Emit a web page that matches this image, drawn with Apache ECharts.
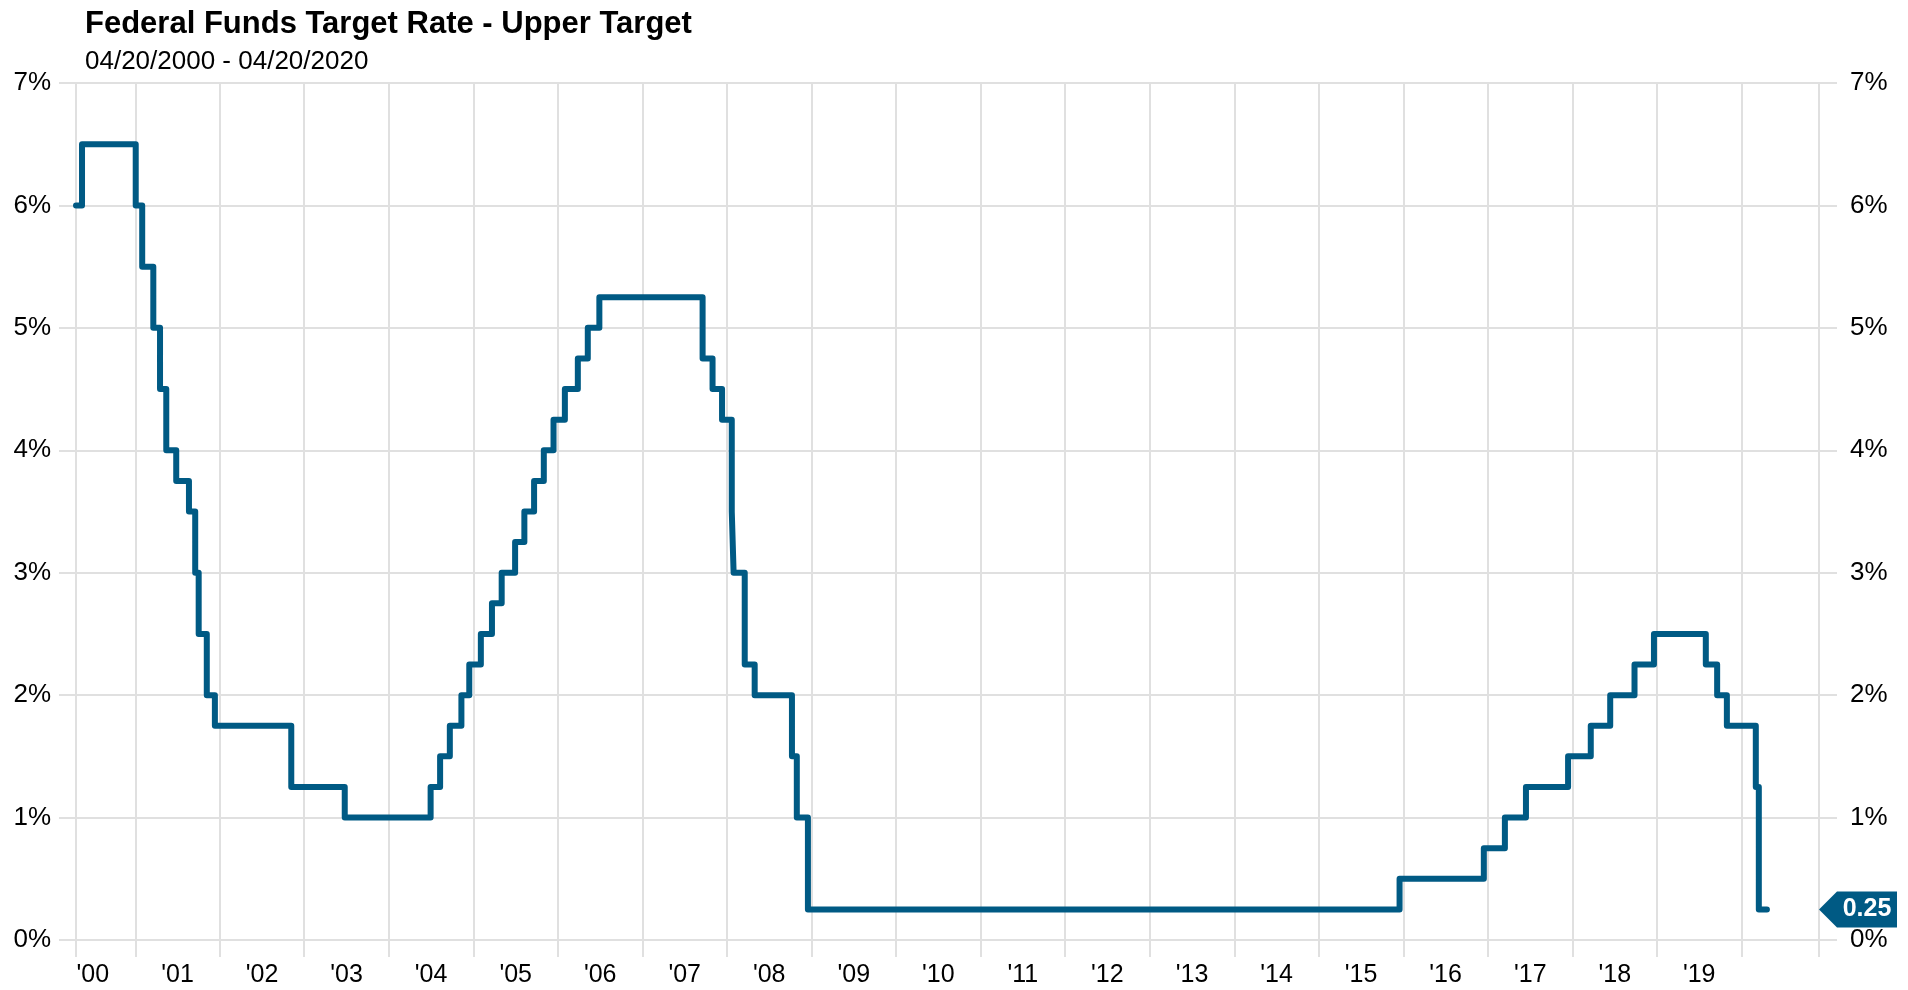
<!DOCTYPE html>
<html><head><meta charset="utf-8">
<script src="https://cdn.jsdelivr.net/npm/echarts@6/dist/echarts.min.js"></script>
<style>html,body{margin:0;padding:0;background:#fff}#c{width:1908px;height:990px}</style>
</head><body><div id="c"></div>
<script>
const titleText = 'Federal Funds Target Rate - Upper Target';
const subtitleText = '04/20/2000 - 04/20/2020';

// Dates on which the upper target changed (plus start and end of the window)
const changeDates = [
  '2000-04-20','2000-05-16',
  '2001-01-03','2001-01-31','2001-03-20','2001-04-18','2001-05-15','2001-06-27',
  '2001-08-21','2001-09-17','2001-10-02','2001-11-06','2001-12-11',
  '2002-11-06','2003-06-25',
  '2004-06-30','2004-08-10','2004-09-21','2004-11-10','2004-12-14',
  '2005-02-02','2005-03-22','2005-05-03','2005-06-30','2005-08-09','2005-09-20','2005-11-01','2005-12-13',
  '2006-01-31','2006-03-28','2006-05-10','2006-06-29',
  '2007-09-18','2007-10-31','2007-12-11',
  '2008-01-22','2008-01-30','2008-03-18','2008-04-30','2008-10-08','2008-10-29','2008-12-16',
  '2015-12-16','2016-12-14',
  '2017-03-15','2017-06-14','2017-12-13',
  '2018-03-21','2018-06-13','2018-09-26','2018-12-19',
  '2019-07-31','2019-09-18','2019-10-30',
  '2020-03-03','2020-03-16','2020-04-20'
];
const upperRates = [
  6.00, 6.50,
  6.00, 5.50, 5.00, 4.50, 4.00, 3.75,
  3.50, 3.00, 2.50, 2.00, 1.75,
  1.25, 1.00,
  1.25, 1.50, 1.75, 2.00, 2.25,
  2.50, 2.75, 3.00, 3.25, 3.50, 3.75, 4.00, 4.25,
  4.50, 4.75, 5.00, 5.25,
  4.75, 4.50, 4.25,
  3.50, 3.00, 2.25, 2.00, 1.50, 1.00, 0.25,
  0.50, 0.75,
  1.00, 1.25, 1.50,
  1.75, 2.00, 2.25, 2.50,
  2.25, 2.00, 1.75,
  1.25, 0.25, 0.25
];

const yearLabelYears = [2000,2001,2002,2003,2004,2005,2006,2007,2008,2009,2010,2011,2012,2013,2014,2015,2016,2017,2018,2019];
const yearLabels = ["'00","'01","'02","'03","'04","'05","'06","'07","'08","'09","'10","'11","'12","'13","'14","'15","'16","'17","'18","'19"];

const yMin = 0, yMax = 7, yStep = 1;
const xStart = '2000-04-20', xEnd = '2020-12-01';

const FONT = "'Liberation Sans', Arial, sans-serif";
const LINE = '#005a84';
const GRID = '#e0e0e0';

function ts(s) { const p = s.split('-').map(Number); return Date.UTC(p[0], p[1]-1, p[2]); }
const DAY = 86400000;
const YEAR = 365 * DAY;
const HALF = 182.6 * DAY;
const xMin = ts(xStart), xMax = ts(xEnd);

const seriesData = changeDates.map((d, i) => [ts(d), upperRates[i]]);
const lastRate = upperRates[upperRates.length - 1];

const chart = echarts.init(document.getElementById('c'), null, {renderer: 'canvas'});
chart.setOption({
  animation: false,
  useUTC: true,
  backgroundColor: '#fff',
  title: [
    {text: titleText, left: 85, top: 9, padding: 0,
     textStyle: {fontFamily: FONT, fontSize: 31, fontWeight: 'bold', color: '#000'}},
    {text: subtitleText, left: 85, top: 49, padding: 0,
     textStyle: {fontFamily: FONT, fontSize: 26, fontWeight: 'normal', color: '#000'}}
  ],
  grid: {left: 76, right: 89, top: 83, bottom: 50, containLabel: false},
  xAxis: [
    {
      type: 'time', min: xMin, max: xMax, position: 'bottom',
      minInterval: YEAR, maxInterval: 366 * DAY,
      axisLine: {show: false},
      axisTick: {show: true, length: 17, lineStyle: {color: GRID, width: 2}},
      axisLabel: {show: false},
      splitLine: {show: true, lineStyle: {color: GRID, width: 2}}
    },
    {
      type: 'time', min: xMin - HALF, max: xMax - HALF, position: 'bottom', offset: 0,
      minInterval: YEAR, maxInterval: 366 * DAY,
      axisLine: {show: false}, axisTick: {show: false}, splitLine: {show: false},
      axisLabel: {
        show: true, margin: 23, fontFamily: FONT, fontSize: 25, color: '#000',
        showMinLabel: true, showMaxLabel: true, hideOverlap: false,
        formatter: function (v) {
          const d = new Date(v);
          if (d.getUTCMonth() !== 0 || d.getUTCDate() !== 1) return '';
          const i = yearLabelYears.indexOf(d.getUTCFullYear());
          return i >= 0 ? yearLabels[i] : '';
        }
      }
    }
  ],
  yAxis: [
    {
      type: 'value', min: yMin, max: yMax, interval: yStep, position: 'left',
      axisLine: {show: true, lineStyle: {color: GRID, width: 2}},
      axisTick: {show: true, length: 17, lineStyle: {color: GRID, width: 2}},
      axisLabel: {margin: 25, fontFamily: FONT, fontSize: 26, color: '#000', formatter: '{value}%'},
      splitLine: {show: true, lineStyle: {color: GRID, width: 2}}
    },
    {
      type: 'value', min: yMin, max: yMax, interval: yStep, position: 'right',
      axisLine: {show: true, lineStyle: {color: GRID, width: 2}},
      axisTick: {show: true, length: 18, lineStyle: {color: GRID, width: 2}},
      axisLabel: {margin: 31, fontFamily: FONT, fontSize: 26, color: '#000', formatter: '{value}%'},
      splitLine: {show: false}
    }
  ],
  series: [{
    type: 'line', step: 'end', xAxisIndex: 0, yAxisIndex: 0,
    data: seriesData, showSymbol: false, symbol: 'none',
    lineStyle: {color: LINE, width: 6, cap: 'round', join: 'round'},
    itemStyle: {color: LINE},
    clip: false,
    markPoint: {
      symbol: 'path://M0,18L18,0L78,0L78,36L18,36Z',
      symbolSize: [78, 36],
      symbolOffset: [39, 0],
      itemStyle: {color: LINE},
      label: {show: true, position: 'inside', offset: [9, 0], color: '#fff', fontWeight: 'bold',
              fontSize: 25, fontFamily: FONT, formatter: p => Number(p.value).toFixed(2)},
      data: [{coord: [xMax, lastRate], value: lastRate}]
    }
  }]
});
</script></body></html>
